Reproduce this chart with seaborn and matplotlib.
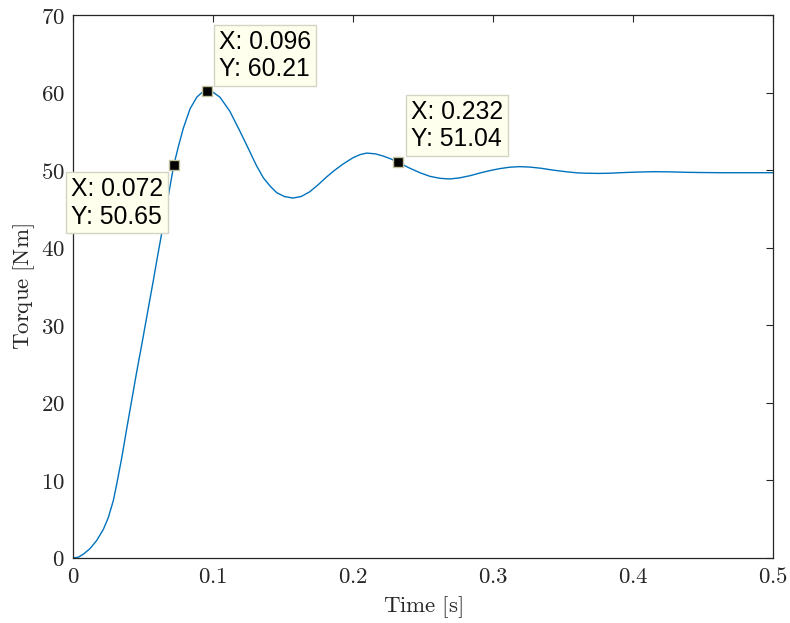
import matplotlib
matplotlib.use("Agg")
import matplotlib.pyplot as plt
import seaborn as sns
import pandas as pd
from matplotlib.ticker import FuncFormatter

# ---- data ----
time_s = [0.000, 0.004, 0.0074, 0.0121, 0.0169, 0.0217, 0.0252, 0.0288, 0.0312, 0.0348,
          0.0383, 0.0420, 0.0455, 0.0490, 0.0514, 0.0545, 0.0574, 0.0600, 0.0626, 0.0660,
          0.0690, 0.0720, 0.0752, 0.0788, 0.0836, 0.0884, 0.0920, 0.0960, 0.1000, 0.1050,
          0.1120, 0.1190, 0.1252, 0.1310, 0.1360, 0.1410, 0.1455, 0.1510, 0.1570, 0.1630,
          0.1690, 0.1750, 0.1810, 0.1870, 0.1930, 0.2000, 0.2050, 0.2098, 0.2160, 0.2218,
          0.2270, 0.2320, 0.2400, 0.2480, 0.2550, 0.2620, 0.2690, 0.2760, 0.2840, 0.2910,
          0.2980, 0.3050, 0.3120, 0.3190, 0.3260, 0.3340, 0.3430, 0.3520, 0.3600, 0.3670,
          0.3750, 0.3830, 0.3910, 0.4030, 0.4145, 0.4260, 0.4380, 0.4500, 0.4620, 0.4800,
          0.5000]
torque_nm = [0.00, 0.12, 0.50, 1.20, 2.25, 3.70, 5.20, 7.40, 9.50, 12.9,
             16.6, 20.4, 24.0, 27.4, 29.8, 32.9, 35.8, 38.5, 41.1, 44.5,
             47.6, 50.65, 53.0, 55.4, 57.9, 59.4, 60.0, 60.21, 60.05, 59.4,
             57.6, 55.1, 52.8, 50.6, 49.0, 47.9, 47.1, 46.6, 46.4, 46.6,
             47.2, 48.1, 49.1, 50.0, 50.8, 51.6, 52.0, 52.2, 52.1, 51.8,
             51.45, 51.04, 50.3, 49.65, 49.2, 48.95, 48.86, 49.0, 49.3, 49.65,
             49.95, 50.2, 50.38, 50.45, 50.4, 50.25, 50.0, 49.8, 49.65, 49.6,
             49.58, 49.6, 49.67, 49.75, 49.8, 49.78, 49.72, 49.69, 49.67, 49.67,
             49.67]

tip_x = [0.072, 0.096, 0.232]
tip_y = [50.65, 60.21, 51.04]
tip_offsets_px = [(-103, -12), (12, 61), (13, 62)]

x_ticks = [0, 0.1, 0.2, 0.3, 0.4, 0.5]
y_ticks = [0, 10, 20, 30, 40, 50, 60, 70]

sns.set_theme(style="white")
plt.rcParams["mathtext.fontset"] = "cm"
plt.rcParams["font.family"] = ["DejaVu Serif"]

fig = plt.figure(figsize=(7.9, 6.23), dpi=100)
ax = fig.add_axes([73 / 790, 1 - 558 / 623, 700 / 790, 543 / 623])

df = pd.DataFrame({"t": time_s, "T": torque_nm})
sns.lineplot(data=df, x="t", y="T", ax=ax, color="#0072BD", linewidth=1.0)

ax.set_xlim(0, 0.5)
ax.set_ylim(0, 70)
ax.set_xticks(x_ticks)
ax.set_yticks(y_ticks)

def fmt(v, pos):
    return "$" + f"{v:g}" + "$"

ax.xaxis.set_major_formatter(FuncFormatter(fmt))
ax.yaxis.set_major_formatter(FuncFormatter(fmt))

ax.tick_params(direction="in", length=5, width=0.8, colors="#262626",
               top=True, right=True, labelsize=16.5, pad=6)
for sp in ax.spines.values():
    sp.set_visible(True)
    sp.set_color("#262626")
    sp.set_linewidth(0.9)

ax.set_xlabel(r"$\mathrm{Time\ [s]}$", fontsize=16.5, color="#262626", labelpad=4)
ax.set_ylabel(r"$\mathrm{Torque\ [Nm]}$", fontsize=16.5, color="#262626", labelpad=3)

# data tips
ax.plot(tip_x, tip_y, linestyle="none", marker="s", markersize=7.5,
        markerfacecolor="black", markeredgecolor="#c2c29e", markeredgewidth=1.0,
        zorder=5)
for (x, y, (dx, dy)) in zip(tip_x, tip_y, tip_offsets_px):
    ax.annotate(f"X: {x:g}\nY: {y:.2f}", xy=(x, y), xytext=(dx, dy),
                textcoords="offset pixels", ha="left", va="top",
                fontsize=17.8, family=["Liberation Sans", "DejaVu Sans"],
                color="black", linespacing=1.18,
                bbox=dict(boxstyle="square,pad=0.2", facecolor="#FFFFEE",
                          edgecolor="#d4d4c4", linewidth=1.0),
                annotation_clip=False, zorder=6)

fig.savefig("out.png", dpi=100)
